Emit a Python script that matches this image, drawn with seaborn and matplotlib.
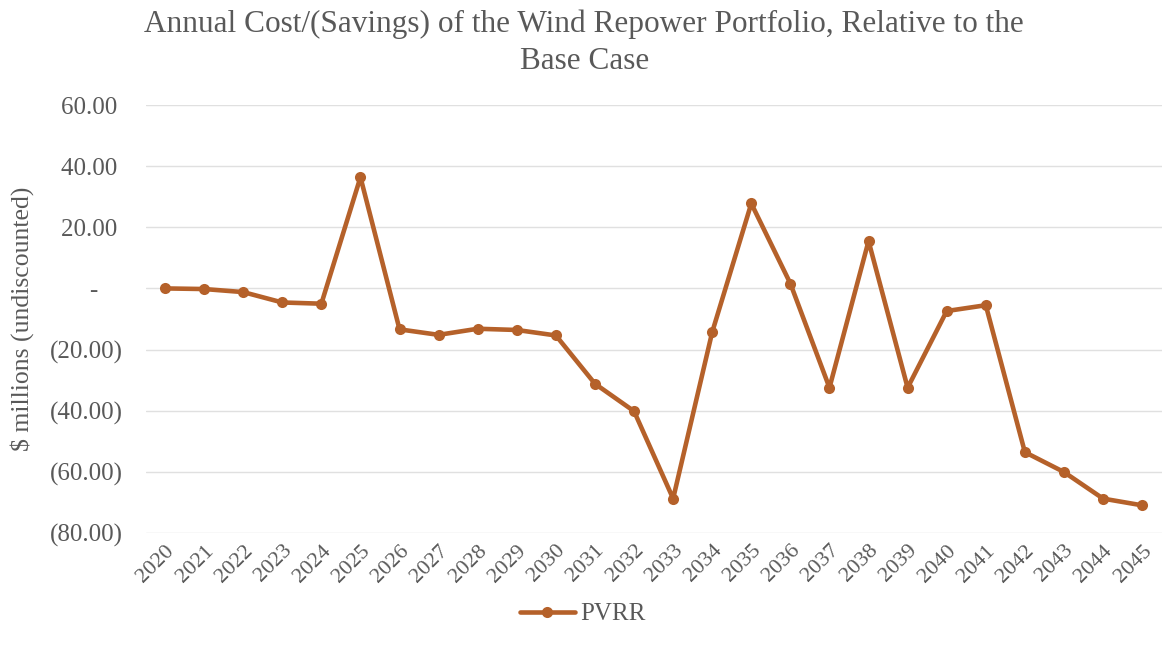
import numpy as np
import pandas as pd
import seaborn as sns
import matplotlib.pyplot as plt
import matplotlib.ticker as mticker

years = list(range(2020, 2046))
pvrr = [0.0, -0.2, -1.2, -4.6, -5.0, 36.4, -13.4, -15.2, -13.2, -13.6, -15.4,
        -31.2, -40.2, -68.8, -14.3, 27.8, 1.6, -32.5, 15.5, -32.5, -7.4, -5.5,
        -53.6, -60.1, -68.8, -71.0]
yticks = [60, 40, 20, 0, -20, -40, -60, -80]

df = pd.DataFrame({'year': years, 'PVRR': pvrr})

sns.set_theme(style='white')
plt.rcParams['font.family'] = ['Liberation Serif', 'DejaVu Serif']
text_col = '#595959'
line_col = '#B5612A'

fig = plt.figure(figsize=(11.64, 6.57), dpi=100)
ax = fig.add_axes([0.125, 0.189, 0.873, 0.651])

sns.lineplot(data=df, x='year', y='PVRR', ax=ax, color=line_col, linewidth=3.3,
             marker='o', markersize=8, markeredgewidth=0, label='PVRR')

ax.set_xlim(2019.5, 2045.5)
ax.set_ylim(-80, 60)
ax.set_yticks(yticks)


# accounting style labels, like the spreadsheet
def fmt(v, pos):
    if abs(v) < 1e-9:
        return '-    '
    if v < 0:
        return '({:.2f})'.format(-v)
    return '{:.2f} '.format(v)


ax.yaxis.set_major_formatter(mticker.FuncFormatter(fmt))
ax.set_xticks(years)
ax.set_xticklabels([str(y) for y in years], rotation=45, ha='right', rotation_mode='anchor')
ax.tick_params(axis='x', labelsize=16, colors=text_col, pad=0)
ax.tick_params(axis='y', labelsize=18, colors=text_col, pad=10)
ax.grid(axis='y', color='#E0E0E0', linewidth=1)
sns.despine(ax=ax, left=True, bottom=True)

ax.set_xlabel('')
ax.set_ylabel('$ millions (undiscounted)', fontsize=18.5, color=text_col, labelpad=12)
fig.suptitle('Annual Cost/(Savings) of the Wind Repower Portfolio, Relative to the\nBase Case',
             x=0.502, y=0.985, fontsize=22.5, color=text_col, linespacing=1.35)

leg = ax.legend(loc='center', bbox_to_anchor=(0.43, -0.19), frameon=False,
                fontsize=18, handlelength=2.2, handletextpad=0.2)
for t in leg.get_texts():
    t.set_color(text_col)

fig.savefig('out.png', dpi=100)
